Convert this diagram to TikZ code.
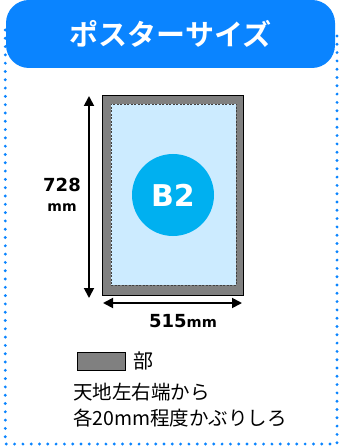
\documentclass[tikz,border=0pt]{standalone}
\usepackage{fontspec}
\usetikzlibrary{arrows.meta}
\newfontfamily\jp{Noto Sans CJK JP}
\newfontfamily\jpbold{Noto Sans CJK JP Bold}
\newfontfamily\dvb{DejaVu Sans Bold}
\definecolor{pillblue}{HTML}{0A84FF}
\definecolor{bordergray}{HTML}{808080}
\definecolor{paleblue}{HTML}{CCEBFF}
\definecolor{circblue}{HTML}{00B0F0}
\definecolor{dashgray}{HTML}{404040}
\tikzset{
  dotline/.style={draw=pillblue, line width=3.2pt, line cap=round, dash pattern=on 0pt off 8.3pt},
  pill/.style={fill=pillblue, rounded corners=23pt, minimum width=329pt, minimum height=68pt, text=white, inner sep=0pt},
  frame/.style={draw=black, fill=bordergray, line width=1pt, inner sep=0pt},
  innerarea/.style={draw=dashgray, fill=paleblue, dashed, dash pattern=on 2pt off 1.5pt, line width=0.8pt, inner sep=0pt},
  dimarrow/.style={line width=1.8pt, {Triangle[length=10pt,width=10pt]}-{Triangle[length=10pt,width=10pt]}},
  plain/.style={inner sep=0pt}
}
\begin{document}
\begin{tikzpicture}[x=1pt,y=-1pt]
\useasboundingbox (0,0) rectangle (344,446);
\coordinate (d1) at (5.3,30);
\coordinate (d2) at (5.3,444);
\coordinate (d3) at (337,444);
\coordinate (d4) at (337,30);
\draw[dotline] (d1) -- (d2) -- (d3) -- (d4);
\node[pill, font=\jpbold\fontsize{29}{32}\selectfont] (title) at (170.5,34) {ポスターサイズ};
\node[frame, minimum width=141pt, minimum height=199pt] (poster) at (172.5,195.5) {};
\node[innerarea, minimum width=125pt, minimum height=181pt] (inner) at (173.5,194.5) {};
\node[circle, fill=circblue, minimum size=82pt, inner sep=0pt, text=white, font=\dvb\fontsize{30}{34}\selectfont] (b2) at (173,195) {B2};
\coordinate (vt) at (89,96);
\coordinate (vb) at (89,298);
\draw[dimarrow] (vt) -- (vb);
\node[plain, font=\dvb\fontsize{18}{20}\selectfont] (h728) at (62,185) {728};
\node[plain, font=\dvb\fontsize{14}{15}\selectfont] (hmm) at (62,208) {mm};
\coordinate (hl) at (103,303);
\coordinate (hr) at (242,303);
\draw[dimarrow] (hl) -- (hr);
\node[plain, font=\dvb\fontsize{18}{20}\selectfont] (w515) at (183,321) {515{\fontsize{14.5}{15}\selectfont mm}};
\node[frame, minimum width=48pt, minimum height=18pt] (legend) at (101,361) {};
\node[plain, font=\jp\fontsize{20}{22}\selectfont] (bu) at (143,361) {部};
\node[plain, anchor=west, font=\jp\fontsize{19.5}{22}\selectfont] (line1) at (73,392) {天地左右端から};
\node[plain, anchor=west, font=\jp\fontsize{19.5}{22}\selectfont] (line2) at (73,418) {各20mm程度かぶりしろ};
\end{tikzpicture}
\end{document}
